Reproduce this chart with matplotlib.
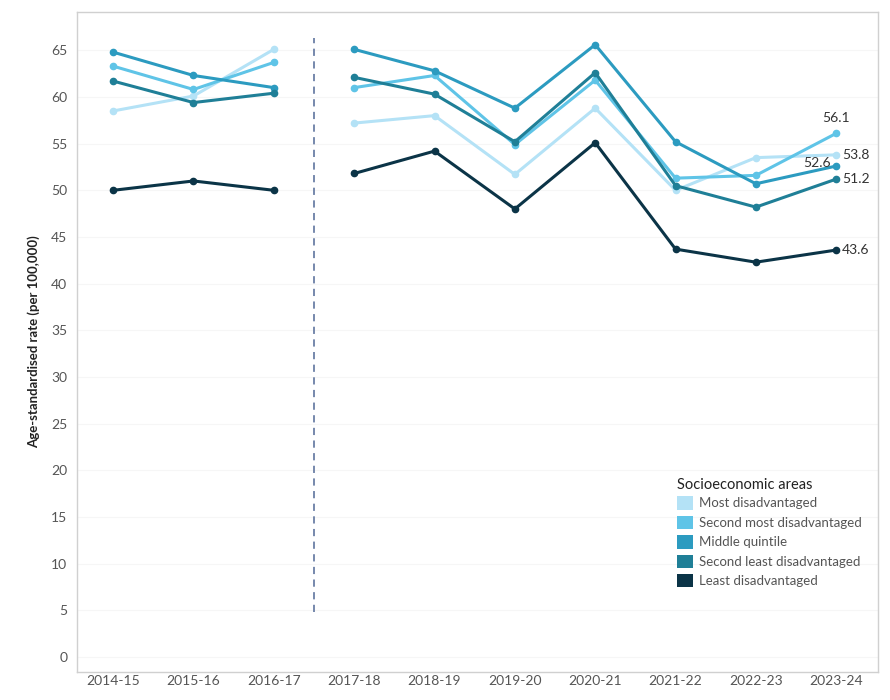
import matplotlib
matplotlib.use("Agg")
import matplotlib.pyplot as plt
from matplotlib.patches import Patch

years = ["2014-15", "2015-16", "2016-17", "2017-18", "2018-19", "2019-20",
         "2020-21", "2021-22", "2022-23", "2023-24"]

series_names = ["Most disadvantaged", "Second most disadvantaged", "Middle quintile",
                "Second least disadvantaged", "Least disadvantaged"]

most_dis = [58.5, 60.1, 65.1, 57.2, 58.0, 51.7, 58.8, 50.0, 53.5, 53.8]
second_most = [63.3, 60.8, 63.7, 61.0, 62.3, 54.9, 61.8, 51.3, 51.6, 56.1]
middle = [64.8, 62.3, 61.0, 65.1, 62.8, 58.8, 65.6, 55.2, 50.7, 52.6]
second_least = [61.7, 59.4, 60.4, 62.1, 60.3, 55.2, 62.6, 50.5, 48.2, 51.2]
least = [50.0, 51.0, 50.0, 51.8, 54.2, 48.0, 55.1, 43.7, 42.3, 43.6]

colors = ["#b4e2f6", "#5fc4e7", "#2c9bc0", "#1f7f97", "#0b3447"]
all_series = [most_dis, second_most, middle, second_least, least]

plt.rcParams['font.family'] = ['Lato', 'DejaVu Sans']

fig = plt.figure(figsize=(8.9, 7.0), dpi=100)
ax = fig.add_axes([77/890, 28/700, (878-77)/890, (672-12)/700])

x = list(range(len(years)))
breaks = [(0, 3), (3, 10)]
for vals, c in zip(all_series, colors):
    for a, b in breaks:
        ax.plot(x[a:b], vals[a:b], color=c, linewidth=2.2, marker='o',
                markersize=4.5, solid_capstyle='round', zorder=3)

ax.plot([2.5, 2.5], [4.8, 66.3], color='#6b7fa6', linestyle=(0, (4, 3)), linewidth=1.3, zorder=2)

# end labels
lab_col = '#333333'
ax.annotate(f"{second_most[-1]:.1f}", (9, second_most[-1]), xytext=(0, 7), textcoords='offset points',
            ha='center', va='bottom', fontsize=10, color=lab_col)
ax.annotate(f"{most_dis[-1]:.1f}", (9, most_dis[-1]), xytext=(4, 0), textcoords='offset points',
            ha='left', va='center', fontsize=10, color=lab_col)
ax.annotate(f"{middle[-1]:.1f}", (9, middle[-1]), xytext=(-4, 2), textcoords='offset points',
            ha='right', va='center', fontsize=10, color=lab_col)
ax.annotate(f"{second_least[-1]:.1f}", (9, second_least[-1]), xytext=(4, 0), textcoords='offset points',
            ha='left', va='center', fontsize=10, color=lab_col)
ax.annotate(f"{least[-1]:.1f}", (9, least[-1]), xytext=(4, 0), textcoords='offset points',
            ha='left', va='center', fontsize=10, color=lab_col)

ax.set_xlim(-0.45, 9.52)
ax.set_ylim(-1.6, 69.1)
ax.set_xticks(x)
ax.set_xticklabels(years, fontsize=10, color='#555555')
ax.set_yticks(range(0, 70, 5))
ax.set_yticklabels([str(v) for v in range(0, 70, 5)], fontsize=10, color='#555555')
ax.tick_params(axis='y', length=0, pad=7)
ax.tick_params(axis='x', length=0, pad=2)
ax.grid(axis='y', color='#f6f6f6', linewidth=0.8)
ax.set_axisbelow(True)
for side in ['top', 'right', 'bottom', 'left']:
    ax.spines[side].set_color('#d0d0d0')
    ax.spines[side].set_linewidth(1)

ax.set_ylabel("Age-standardised rate (per 100,000)", fontsize=9.5, fontweight='bold',
              color='#222222', labelpad=8)

handles = [Patch(facecolor=c, edgecolor='none', label=n) for c, n in zip(colors, series_names)]
leg = ax.legend(handles=handles, title="Socioeconomic areas", loc='upper left',
                bbox_to_anchor=(0.734, 0.312), frameon=False, fontsize=9.5,
                title_fontsize=10.5, handlelength=1.2, handleheight=1.2,
                handletextpad=0.5, labelspacing=0.45, alignment='left')
leg._legend_box.sep = 3
for t in leg.get_texts():
    t.set_color('#555555')
leg.get_title().set_color('#222222')

fig.savefig("out.png", dpi=100)
